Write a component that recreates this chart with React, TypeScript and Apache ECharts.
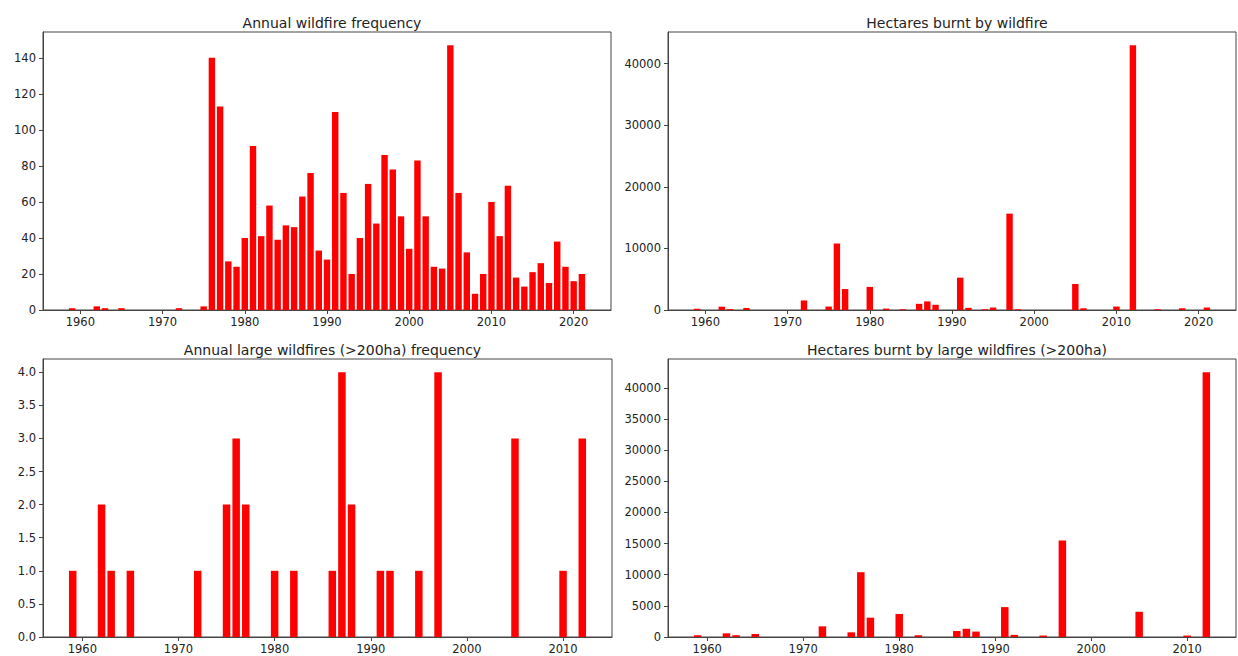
import React, { useEffect, useRef } from 'react';
import * as echarts from 'echarts';

// ---- Data ----
const fireStartYear = 1959;
const fireCounts = [
  1, 0, 0, 2, 1, 0, 1, 0, 0, 0, 0, 0, 0, 1, 0, 0, 2, // 1959-1975
  140, 113, 27, 24, 40, 91, 41, 58, 39, 47, 46, 63, 76, 33, 28, // 1976-1990
  110, 65, 20, 40, 70, 48, 86, 78, 52, 34, // 1991-2000
  83, 52, 24, 23, 147, 65, 32, 9, 20, 60, // 2001-2010
  41, 69, 18, 13, 21, 26, 15, 38, 24, 16, 20, // 2011-2021
];
const hectaresBurnt = [
  200, 0, 0, 540, 150, 0, 330, 0, 0, 0, 0, 0, 0, 1550, 0, 0, 560,
  10800, 3400, 0, 0, 3750, 0, 230, 0, 120, 0, 1000, 1400, 850, 0, 0,
  5250, 350, 0, 120, 400, 0, 15650, 120, 0, 0,
  0, 0, 0, 0, 4230, 280, 0, 0, 0, 560,
  0, 43000, 0, 0, 120, 0, 0, 280, 0, 0, 400,
];
const largeStartYear = 1959;
const largeCounts = [
  1, 0, 0, 2, 1, 0, 1, 0, 0, 0, 0, 0, 0, 1, 0, 0, 2,
  3, 2, 0, 0, 1, 0, 1, 0, 0, 0, 1, 4, 2, 0, 0,
  1, 1, 0, 0, 1, 0, 4, 0, 0, 0,
  0, 0, 0, 0, 3, 0, 0, 0, 0, 1,
  0, 3,
];
const largeHectares = [
  280, 0, 0, 590, 280, 0, 480, 0, 0, 0, 0, 0, 0, 1710, 0, 0, 750,
  10400, 3100, 0, 0, 3700, 0, 280, 0, 0, 0, 960, 1320, 870, 0, 0,
  4800, 340, 0, 0, 230, 0, 15500, 0, 0, 0,
  0, 0, 0, 0, 4050, 0, 0, 0, 0, 230,
  0, 42500,
];

const titles = [
  'Annual wildfire frequency',
  'Hectares burnt by wildfire',
  'Annual large wildfires (>200ha) frequency',
  'Hectares burnt by large wildfires (>200ha)',
];
const xTicksLong = [1960, 1970, 1980, 1990, 2000, 2010, 2020];
const xTicksShort = [1960, 1970, 1980, 1990, 2000, 2010];
const yTicks1 = [0, 20, 40, 60, 80, 100, 120, 140];
const yTicks2 = [0, 10000, 20000, 30000, 40000];
const yTicks3 = [0, 0.5, 1.0, 1.5, 2.0, 2.5, 3.0, 3.5, 4.0];
const yTicks4 = [0, 5000, 10000, 15000, 20000, 25000, 30000, 35000, 40000];

const FONT = 'DejaVu Sans';
const TEXT = '#222222';
const SPINE = '#444444';

export default function App() {
  const ref = useRef<HTMLDivElement>(null);
  useEffect(() => {
    if (!ref.current) return;
    const chart = echarts.init(ref.current, undefined, { renderer: 'svg' });

    const grids = [
      { left: 43, top: 32, width: 568, height: 278 },
      { left: 668, top: 32, width: 568, height: 278 },
      { left: 43, top: 359, width: 569, height: 278 },
      { left: 668, top: 359, width: 568, height: 278 },
    ];
    const panels = [
      { start: fireStartYear, vals: fireCounts, xt: xTicksLong, yt: yTicks1, fmt: (v: number) => String(v) },
      { start: fireStartYear, vals: hectaresBurnt, xt: xTicksLong, yt: yTicks2, fmt: (v: number) => String(v) },
      { start: largeStartYear, vals: largeCounts, xt: xTicksShort, yt: yTicks3, fmt: (v: number) => v.toFixed(1) },
      { start: largeStartYear, vals: largeHectares, xt: xTicksShort, yt: yTicks4, fmt: (v: number) => String(v) },
    ];

    const xAxis: any[] = [];
    const yAxis: any[] = [];
    const series: any[] = [];
    const title: any[] = [];

    panels.forEach((p, i) => {
      const g = grids[i];
      const first = p.start;
      const last = p.start + p.vals.length - 1;
      const lo = first - 0.4;
      const hi = last + 0.4;
      const span = hi - lo;
      const xmin = lo - 0.05 * span;
      const xmax = hi + 0.05 * span;
      const ymax = Math.max(...p.vals) * 1.05;
      const barPx = (g.width / (xmax - xmin)) * 0.78;

      xAxis.push({
        type: 'value',
        gridIndex: i,
        min: xmin,
        max: xmax,
        z: 10,
        splitLine: { show: false },
        axisLine: { show: true, onZero: false, lineStyle: { color: SPINE, width: 1 } },
        axisTick: { show: true, length: 4, lineStyle: { color: SPINE }, customValues: p.xt },
        axisLabel: {
          customValues: p.xt,
          formatter: (v: number) => String(Math.round(v)),
          color: TEXT,
          fontFamily: FONT,
          fontSize: 11.5,
          margin: 6,
        },
      });
      yAxis.push({
        type: 'value',
        gridIndex: i,
        min: 0,
        max: ymax,
        z: 10,
        splitLine: { show: false },
        axisLine: { show: true, lineStyle: { color: SPINE, width: 1 } },
        axisTick: { show: true, length: 4, lineStyle: { color: SPINE }, customValues: p.yt },
        axisLabel: {
          customValues: p.yt,
          formatter: (v: number) => p.fmt(v),
          color: TEXT,
          fontFamily: FONT,
          fontSize: 11.5,
          margin: 7,
        },
      });
      series.push({
        type: 'bar',
        xAxisIndex: i,
        yAxisIndex: i,
        barWidth: barPx,
        data: p.vals
          .map((v, k) => [first + k, v])
          .filter((d) => d[1] !== 0),
        itemStyle: { color: '#ff0000', borderWidth: 0 },
      });
      title.push({
        text: titles[i],
        left: g.left + g.width / 2,
        top: g.top - 21,
        textAlign: 'center',
        textStyle: { fontFamily: FONT, fontSize: 14, fontWeight: 'normal', color: TEXT },
      });
    });

    chart.setOption({
      animation: false,
      backgroundColor: '#ffffff',
      title,
      grid: grids.map((g) => ({ ...g, show: true, borderColor: SPINE, borderWidth: 1, backgroundColor: 'transparent', containLabel: false })),
      xAxis,
      yAxis,
      series,
    });
    return () => chart.dispose();
  }, []);

  return (
    <div
      ref={ref}
      style={{ position: 'fixed', left: 0, top: 0, width: 1238, height: 656, background: '#fff' }}
    />
  );
}
